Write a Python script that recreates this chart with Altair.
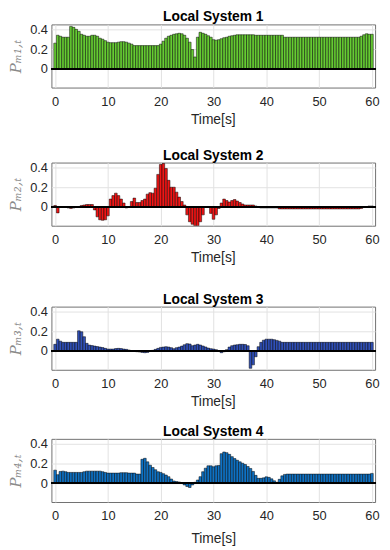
import altair as alt
import pandas as pd

times = [i * 0.5 for i in range(121)]

p1 = [0.26, 0.34, 0.33, 0.32, 0.32, 0.32, 0.43, 0.42, 0.40, 0.38,
      0.35, 0.34, 0.33, 0.33, 0.34, 0.34, 0.33, 0.31, 0.30, 0.285,
      0.27, 0.265, 0.265, 0.265, 0.27, 0.275, 0.275, 0.27, 0.26, 0.25,
      0.235, 0.235, 0.235, 0.235, 0.235, 0.235, 0.235, 0.235, 0.235, 0.235,
      0.25, 0.28, 0.31, 0.33, 0.34, 0.35, 0.355, 0.36, 0.355, 0.34,
      0.31, 0.27, 0.195, 0.12, 0.32, 0.37, 0.36, 0.35, 0.335, 0.32,
      0.295, 0.29, 0.295, 0.305, 0.315, 0.32, 0.33, 0.335, 0.34, 0.345,
      0.345, 0.345, 0.345, 0.345, 0.345, 0.345, 0.34, 0.34, 0.34, 0.34,
      0.34, 0.34, 0.34, 0.34, 0.34, 0.34, 0.34, 0.32, 0.32, 0.32,
      0.32, 0.32, 0.32, 0.32, 0.32, 0.32, 0.32, 0.32, 0.32, 0.32,
      0.32, 0.32, 0.32, 0.32, 0.32, 0.32, 0.32, 0.32, 0.32, 0.32,
      0.32, 0.32, 0.32, 0.32, 0.32, 0.32, 0.33, 0.345, 0.355, 0.35,
      0.35]

p2 = [0.015, -0.06, 0.0, 0.0, -0.003, -0.01, -0.015, -0.01, 0.0, 0.005,
      0.015, 0.02, 0.025, 0.025, 0.025, -0.03, -0.1, -0.13, -0.135, -0.13,
      -0.09, 0.08, 0.115, 0.14, 0.115, 0.08, 0.04, -0.01, 0.003, 0.055,
      0.09, 0.045, 0.045, 0.065, 0.08, 0.13, 0.145, 0.14, 0.19, 0.33,
      0.43, 0.44, 0.39, 0.27, 0.2, 0.2, 0.15, 0.1, 0.055, 0.02,
      -0.08, -0.15, -0.175, -0.19, -0.19, -0.15, -0.08, 0.0, 0.005, -0.065,
      -0.125, -0.08, -0.015, 0.04, 0.08, 0.065, 0.05, 0.065, 0.075, 0.06,
      0.045, 0.03, 0.02, 0.02, 0.02, 0.02, 0.01, -0.003, -0.01, -0.01,
      -0.01, -0.01, -0.01, -0.01, -0.01, -0.02, -0.02, -0.02, -0.02, -0.02,
      -0.02, -0.02, -0.02, -0.02, -0.02, -0.02, -0.02, -0.02, -0.02, -0.02,
      -0.02, -0.02, -0.02, -0.02, -0.02, -0.02, -0.02, -0.02, -0.02, -0.02,
      -0.02, -0.02, -0.02, -0.02, -0.02, -0.02, -0.015, -0.005, 0.003, 0.01,
      0.01]

p3 = [0.068, 0.12, 0.10, 0.088, 0.088, 0.088, 0.088, 0.088, 0.088, 0.205,
      0.195, 0.145, 0.078, 0.06, 0.055, 0.05, 0.045, 0.04, 0.035, 0.027,
      0.02, 0.02, 0.02, 0.025, 0.027, 0.025, 0.02, 0.017, 0.01, 0.0,
      -0.003, -0.007, -0.01, -0.014, -0.017, -0.014, -0.003, 0.007, 0.017, 0.027,
      0.037, 0.04, 0.044, 0.04, 0.034, 0.024, 0.034, 0.04, 0.05, 0.064,
      0.075, 0.071, 0.054, 0.061, 0.068, 0.061, 0.051, 0.041, 0.03, 0.024,
      0.02, 0.014, -0.003, -0.017, -0.007, 0.014, 0.04, 0.054, 0.061, 0.064,
      0.068, 0.068, 0.066, 0.054, -0.175, -0.14, -0.058, 0.044, 0.088, 0.11,
      0.12, 0.12, 0.12, 0.115, 0.108, 0.1, 0.088, 0.088, 0.088, 0.088,
      0.088, 0.088, 0.088, 0.088, 0.088, 0.088, 0.088, 0.088, 0.088, 0.088,
      0.088, 0.088, 0.088, 0.088, 0.088, 0.088, 0.088, 0.088, 0.088, 0.088,
      0.088, 0.088, 0.088, 0.088, 0.088, 0.088, 0.088, 0.088, 0.088, 0.088,
      0.088]

p4 = [0.133, 0.087, 0.12, 0.123, 0.117, 0.11, 0.11, 0.11, 0.11, 0.11,
      0.11, 0.117, 0.123, 0.123, 0.123, 0.123, 0.123, 0.123, 0.117, 0.11,
      0.103, 0.103, 0.103, 0.103, 0.103, 0.107, 0.107, 0.107, 0.103, 0.103,
      0.103, 0.093, 0.093, 0.243, 0.253, 0.217, 0.183, 0.16, 0.137, 0.117,
      0.11, 0.097, 0.083, 0.067, 0.043, 0.023, 0.017, 0.013, 0.0, -0.017,
      -0.033, -0.043, -0.017, 0.01, 0.033, 0.067, 0.117, 0.153, 0.177, 0.177,
      0.167, 0.177, 0.18, 0.30, 0.317, 0.31, 0.293, 0.27, 0.25, 0.233,
      0.217, 0.203, 0.19, 0.17, 0.15, 0.12, 0.08, 0.05, 0.05, 0.055,
      0.065, 0.06, 0.045, 0.025, 0.01, 0.04, 0.075, 0.09, 0.093, 0.093,
      0.093, 0.093, 0.093, 0.093, 0.093, 0.093, 0.093, 0.093, 0.093, 0.093,
      0.093, 0.093, 0.093, 0.093, 0.093, 0.093, 0.093, 0.093, 0.093, 0.093,
      0.093, 0.093, 0.093, 0.093, 0.093, 0.093, 0.093, 0.093, 0.093, 0.093,
      0.1]

series = [p1, p2, p3, p4]
titles = ["Local System 1", "Local System 2", "Local System 3", "Local System 4"]
ytitles = ["P\u2098\u2081,\u209c", "P\u2098\u2082,\u209c", "P\u2098\u2083,\u209c", "P\u2098\u2084,\u209c"]
colors = ["#66cc33", "#f01515", "#3050b8", "#0f72c4"]
x_ticks = [0, 10, 20, 30, 40, 50, 60]
y_ticks = [0, 0.2, 0.4]
y_labels = ["0", "0.2", "0.4"]

FONT = "Liberation Sans"
sub_pad = [0, 22, 28, 16]
label_expr = "datum.value > 0.3 ? '%s' : (datum.value > 0.1 ? '%s' : '%s')" % (
    y_labels[2], y_labels[1], y_labels[0])


def panel(k):
    df = pd.DataFrame({"t": times, "v": series[k]})
    df["t0"] = df["t"] - 0.25
    df["t1"] = df["t"] + 0.25
    last = k == 3
    xaxis = alt.Axis(values=x_ticks, title="Time[s]" if last else None,
                     labelPadding=8, titlePadding=9, labelOverlap=False)
    yaxis = alt.Axis(values=y_ticks, labelExpr=label_expr, title=ytitles[k],
                     labelPadding=4, titlePadding=6, labelOverlap=False,
                     labelSeparation=0,
                     titleFont="DejaVu Serif", titleFontStyle="italic",
                     titleFontWeight="normal", titleFontSize=15,
                     titleColor="#8a8a8a")
    yscale = alt.Scale(domain=[-0.19, 0.45], nice=False, zero=False)
    bars = alt.Chart(df).mark_bar(
        color=colors[k], stroke="black", strokeWidth=0.5, clip=True
    ).encode(
        x=alt.X("t0:Q", scale=alt.Scale(domain=[-0.7, 60.6], nice=False, zero=False), axis=xaxis),
        x2="t1:Q",
        y=alt.Y("v:Q", scale=yscale, axis=yaxis),
        y2=alt.datum(0),
    )
    rule = alt.Chart(df).mark_rule(color="black", strokeWidth=0.8).encode(
        y=alt.Y(datum=0, scale=yscale, axis=yaxis))
    if k == 0:
        tp = alt.TitleParams(titles[k], fontSize=14, fontWeight="bold", font=FONT,
                             color="black", offset=-1)
    else:
        tp = alt.TitleParams("Time[s]", fontSize=14, fontWeight="normal", font=FONT,
                             color="#262626", offset=-1,
                             subtitle=titles[k], subtitleFont=FONT, subtitleFontSize=14,
                             subtitleFontWeight="bold", subtitleColor="black",
                             subtitlePadding=sub_pad[k])
    return alt.layer(bars, rule).properties(width=328, height=64, title=tp)


chart = alt.vconcat(*[panel(k) for k in range(4)], spacing=3).properties(
    padding={"left": 0, "top": -2, "right": 2, "bottom": 0}
).configure_view(
    stroke="#707070", strokeWidth=1
).configure_axis(
    domain=False, ticks=False, tickSize=0, grid=True, gridColor="#e2e2e2", gridWidth=1,
    labelOverlap=False,
    labelFont=FONT, labelFontSize=13, labelColor="#262626",
    titleFont=FONT, titleFontSize=14, titleFontWeight="normal", titleColor="#262626",
)

chart.save("out.html", embed_options={"renderer": "svg", "actions": False})
